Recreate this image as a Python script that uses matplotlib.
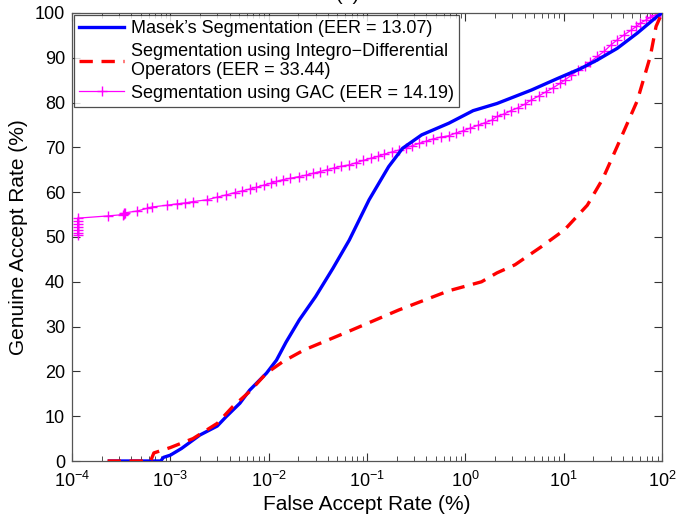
import matplotlib
matplotlib.use("Agg")
import matplotlib.pyplot as plt
from matplotlib.ticker import LogLocator, NullFormatter

plt.rcParams['font.family'] = ['Liberation Sans', 'DejaVu Sans']
plt.rcParams['mathtext.fontset'] = 'custom'
plt.rcParams['mathtext.rm'] = 'Liberation Sans'
plt.rcParams['mathtext.it'] = 'Liberation Sans:italic'

# Masek's Segmentation
masek_far = [2.4e-4, 8e-4, 8.5e-4, 1.0e-3, 1.3e-3, 2.0e-3, 3.0e-3, 3.7e-3, 5.1e-3, 6.4e-3,
             9.5e-3, 1.2e-2, 1.5e-2, 2.05e-2, 3.0e-2, 4.5e-2, 6.6e-2, 0.105, 0.166, 0.23,
             0.36, 0.68, 1.2, 2.1, 4.7, 8.7, 14.9, 21.9, 35, 56, 89, 100]
masek_gar = [0, 0, 0.8, 1.3, 2.8, 5.8, 7.8, 9.9, 12.9, 15.8,
             19.6, 22.5, 26.5, 31.5, 36.7, 43, 49.3, 58.3, 65.7, 69.8,
             72.8, 75.4, 78.2, 79.8, 82.8, 85.4, 87.6, 89.5, 92.1, 95.5, 99.2, 100]

# Segmentation using Integro-Differential Operators
ido_far = [2.3e-4, 6.3e-4, 6.8e-4, 1.0e-3, 1.7e-3, 3.0e-3, 4.3e-3, 6.4e-3, 9.5e-3, 1.4e-2,
           2.3e-2, 6.3e-2, 0.21, 0.68, 1.46, 2.1, 3.2, 5.9, 10.2, 17.4, 25, 35, 56, 76, 87, 100]
ido_gar = [0, 0, 1.8, 3.0, 5.0, 8.4, 12.1, 15.5, 19.6, 22.2,
           24.8, 28.8, 33.7, 38.0, 40.0, 42.0, 43.8, 47.8, 51.6, 57.1, 63, 70.2, 80.4, 90.3, 97.0, 100]

# Segmentation using GAC
gac_far = [1.14e-4, 1.14e-4, 1.14e-4, 1.14e-4, 1.14e-4, 1.14e-4, 1.14e-4, 2.3e-4, 3.3e-4, 3.35e-4,
           3.4e-4, 3.45e-4, 4.6e-4, 5.8e-4, 6.5e-4, 9.3e-4, 1.17e-3, 1.4e-3, 1.7e-3, 2.35e-3,
           3.0e-3, 3.7e-3, 4.5e-3, 5.4e-3, 6.4e-3, 7.5e-3, 9.0e-3, 1.05e-2, 1.2e-2, 1.4e-2,
           1.65e-2, 2.05e-2, 2.4e-2, 2.8e-2, 3.3e-2, 3.9e-2, 4.6e-2, 5.5e-2, 6.6e-2, 7.8e-2,
           9.2e-2, 0.11, 0.13, 0.15, 0.18, 0.21, 0.25, 0.29, 0.34, 0.40,
           0.47, 0.56, 0.68, 0.80, 0.95, 1.12, 1.33, 1.58, 1.87, 2.1,
           2.5, 2.9, 3.4, 4.0, 4.7, 5.6, 6.6, 7.8, 9.2, 10.2,
           12, 14, 16.5, 18.7, 22, 26, 30, 35, 41, 48, 55, 60, 68, 76, 85, 95, 100]
gac_gar = [50.4, 51.0, 51.6, 52.3, 53.0, 53.6, 54.2, 54.7, 55.0, 55.2,
           55.3, 55.4, 55.8, 56.4, 56.7, 57.1, 57.4, 57.6, 57.9, 58.3,
           58.9, 59.4, 59.9, 60.3, 60.7, 61.1, 61.6, 62.0, 62.4, 62.8,
           63.1, 63.5, 63.8, 64.2, 64.6, 65.0, 65.4, 65.8, 66.1, 66.6,
           67.1, 67.6, 68.0, 68.5, 69.0, 69.4, 69.9, 70.4, 70.9, 71.4,
           71.9, 72.3, 72.6, 73.2, 73.7, 74.3, 74.9, 75.5, 76.1, 76.9,
           77.5, 78.2, 78.8, 79.6, 80.6, 81.5, 82.4, 83.3, 84.3, 85.0,
           86.1, 87.2, 88.2, 89.1, 90.3, 91.5, 92.8, 94.0, 95.1, 96.1, 97.0, 97.7, 98.4, 99.0, 99.5, 100, 100]

labels = ["Masek\u2019s Segmentation (EER = 13.07)",
          "Segmentation using Integro\u2212Differential\nOperators (EER = 33.44)",
          "Segmentation using GAC (EER = 14.19)"]
xticks = [1e-4, 1e-3, 1e-2, 1e-1, 1e0, 1e1, 1e2]
xticklabels = [r"$10^{-4}$", r"$10^{-3}$", r"$10^{-2}$", r"$10^{-1}$", r"$10^{0}$", r"$10^{1}$", r"$10^{2}$"]
yticks = [0, 10, 20, 30, 40, 50, 60, 70, 80, 90, 100]

fig = plt.figure(figsize=(6.76, 5.25), dpi=100)
ax = fig.add_axes([72/676, 1 - 461/525, (662 - 72)/676, (461 - 13)/525])

ax.plot(masek_far, masek_gar, color='#0000ff', lw=2.4, label=labels[0], zorder=3)
ax.plot(ido_far, ido_gar, color='#ff0000', lw=2.4, ls=(0, (4, 2.6)), label=labels[1], zorder=3)
ax.plot(gac_far, gac_gar, color='#ff00ff', lw=0.9, marker='+', ms=7.5, mew=1.0, label=labels[2], zorder=2)

ax.set_xscale('log')
ax.set_xlim(1e-4, 1e2)
ax.set_ylim(0, 100)
ax.set_xticks(xticks)
ax.set_xticklabels(xticklabels)
ax.xaxis.set_minor_locator(LogLocator(base=10, subs=range(2, 10), numticks=20))
ax.xaxis.set_minor_formatter(NullFormatter())
ax.set_yticks(yticks)
ax.tick_params(which='both', direction='in', top=True, right=True, labelsize=13, color='#333333')
ax.tick_params(which='major', length=6, width=0.8)
ax.tick_params(which='minor', length=3.5, width=0.6)
ax.tick_params(axis='x', pad=7)
ax.tick_params(axis='y', pad=5)
for s in ax.spines.values():
    s.set_color('#555555')
    s.set_linewidth(0.9)

ax.set_xlabel("False Accept Rate (%)", fontsize=15, labelpad=3)
ax.set_ylabel("Genuine Accept Rate (%)", fontsize=15, labelpad=5)

leg = ax.legend(loc='upper left', fontsize=13, frameon=True, fancybox=False,
                borderaxespad=0.1, handlelength=2.5, handletextpad=0.35,
                labelspacing=0.3, borderpad=0.3)
leg.get_frame().set_edgecolor('#222222')
leg.get_frame().set_linewidth(0.9)

fig.text(0.515, 1 - 4/525, "(a)", fontsize=14, ha='center', va='bottom')

fig.savefig("out.png", dpi=100)
